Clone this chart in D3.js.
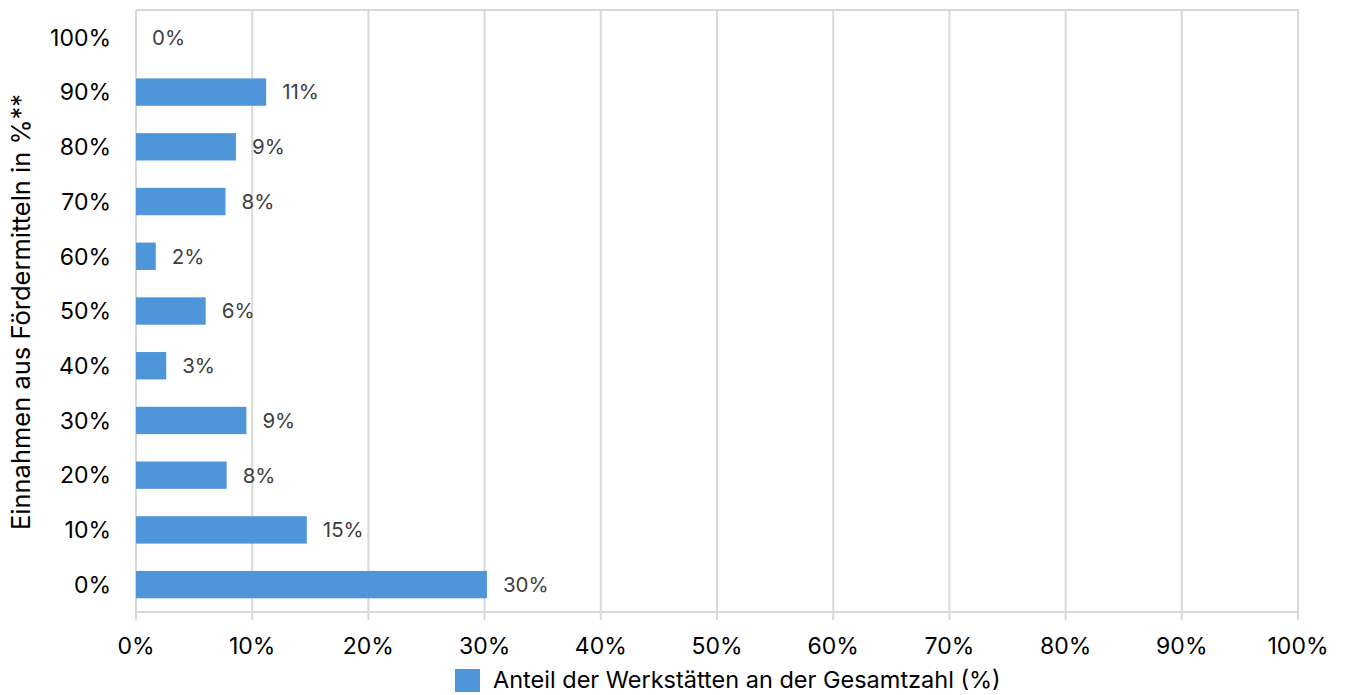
<!DOCTYPE html>
<html><head><meta charset="utf-8">
<script src="https://cdn.jsdelivr.net/npm/d3@7"></script>
<style>body{margin:0;background:#fff}svg{display:block;font-family:Inter,"Open Sans","Liberation Sans",sans-serif}</style>
</head><body><svg id="c" width="1348" height="695"></svg>
<script>
const categories = ["0%","10%","20%","30%","40%","50%","60%","70%","80%","90%","100%"];
const values = [30.2, 14.7, 7.8, 9.5, 2.6, 6.0, 1.7, 7.7, 8.6, 11.2, 0];
const labels = ["30%","15%","8%","9%","3%","6%","2%","8%","9%","11%","0%"];
const xTicks = [0,10,20,30,40,50,60,70,80,90,100];
const yTitle = "Einnahmen aus Fördermitteln in %**";
const legendText = "Anteil der Werkstätten an der Gesamtzahl (%)";

const svg = d3.select("#c");
const L = 136, R = 1298, T = 10, B = 612;
const x = d3.scaleLinear().domain([0,100]).range([L,R]);
const y = d3.scaleBand().domain(categories.slice().reverse()).range([T,B]).paddingInner(0.5).paddingOuter(0.25);
const grid = "#d9d9d9", col = "#4f95d9";

svg.append("g").selectAll("line").data(xTicks).join("line")
  .attr("x1",d=>x(d)).attr("x2",d=>x(d)).attr("y1",T).attr("y2",B+8)
  .attr("stroke",grid).attr("stroke-width",2);
svg.append("line").attr("x1",L).attr("x2",R+1).attr("y1",T).attr("y2",T).attr("stroke",grid).attr("stroke-width",2);
svg.append("line").attr("x1",L-1).attr("x2",R+1).attr("y1",B).attr("y2",B).attr("stroke",grid).attr("stroke-width",2);

svg.append("g").selectAll("rect").data(values).join("rect")
  .attr("x",x(0)).attr("y",(d,i)=>y(categories[i]))
  .attr("width",d=>x(d)-x(0)).attr("height",y.bandwidth())
  .attr("fill",col);

svg.append("g").selectAll("text").data(values).join("text")
  .attr("x",d=>x(d)+16).attr("y",(d,i)=>y(categories[i])+y.bandwidth()/2)
  .attr("dy","0.36em").attr("fill","#404040").attr("font-size",20.5)
  .text((d,i)=>labels[i]);

svg.append("g").selectAll("text").data(categories).join("text")
  .attr("x",L-25).attr("y",d=>y(d)+y.bandwidth()/2).attr("dy","0.36em")
  .attr("text-anchor","end").attr("font-size",23).attr("fill","#000").text(d=>d);

svg.append("g").selectAll("text").data(xTicks).join("text")
  .attr("x",d=>x(d)).attr("y",646).attr("dy","0.36em")
  .attr("text-anchor","middle").attr("font-size",23).attr("fill","#000").text(d=>d+"%");

svg.append("text").attr("transform","translate(30,312) rotate(-90)")
  .attr("text-anchor","middle").attr("font-size",25.5).attr("fill","#000").text(yTitle);

svg.append("rect").attr("x",455).attr("y",669).attr("width",25).attr("height",23).attr("fill",col);
svg.append("text").attr("x",493).attr("y",680).attr("dy","0.35em").attr("font-size",23.5).attr("fill","#000").text(legendText);
</script></body></html>
